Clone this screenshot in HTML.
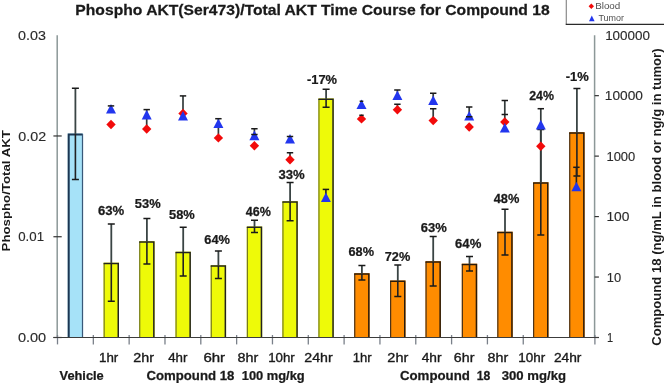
<!DOCTYPE html><html><head><meta charset="utf-8"><style>html,body{margin:0;padding:0;background:#fff;overflow:hidden}svg{display:block;will-change:transform;filter:blur(0.35px)}text{font-family:"Liberation Sans",sans-serif}</style></head><body>
<svg width="664" height="383" viewBox="0 0 664 383">
<rect width="664" height="383" fill="#fff"/>
<path d="M566.3 0V24.3" fill="none" stroke="#8a8a8a" stroke-width="1.2"/>
<path d="M565.7 24.3H664" fill="none" stroke="#2a2a2a" stroke-width="1.2"/>
<path d="M591.3 3.6L594 6.3L591.3 9L588.6 6.3Z" fill="#f20a0a"/>
<path d="M591.8 15.6L594.6 21.2L589 21.2Z" fill="#2236ee"/>
<line x1="57.2" y1="35.2" x2="57.2" y2="337.5" stroke="#8c9898" stroke-width="1.5"/>
<line x1="53.4" y1="337.50" x2="61.7" y2="337.50" stroke="#333" stroke-width="1.2"/>
<line x1="53.4" y1="236.73" x2="61.7" y2="236.73" stroke="#333" stroke-width="1.2"/>
<line x1="53.4" y1="135.97" x2="61.7" y2="135.97" stroke="#333" stroke-width="1.2"/>
<line x1="594.6" y1="35.2" x2="594.6" y2="337.5" stroke="#8c9898" stroke-width="1.5"/>
<line x1="594.6" y1="337.50" x2="598.9" y2="337.50" stroke="#333" stroke-width="1.2"/>
<line x1="594.6" y1="277.04" x2="598.9" y2="277.04" stroke="#333" stroke-width="1.2"/>
<line x1="594.6" y1="216.58" x2="598.9" y2="216.58" stroke="#333" stroke-width="1.2"/>
<line x1="594.6" y1="156.12" x2="598.9" y2="156.12" stroke="#333" stroke-width="1.2"/>
<line x1="594.6" y1="95.66" x2="598.9" y2="95.66" stroke="#333" stroke-width="1.2"/>
<line x1="57.50" y1="335" x2="57.50" y2="344.4" stroke="#7a808a" stroke-width="1.3"/>
<line x1="93.33" y1="335" x2="93.33" y2="344.4" stroke="#7a808a" stroke-width="1.3"/>
<line x1="129.15" y1="335" x2="129.15" y2="344.4" stroke="#7a808a" stroke-width="1.3"/>
<line x1="164.98" y1="335" x2="164.98" y2="344.4" stroke="#7a808a" stroke-width="1.3"/>
<line x1="200.81" y1="335" x2="200.81" y2="344.4" stroke="#7a808a" stroke-width="1.3"/>
<line x1="236.63" y1="335" x2="236.63" y2="344.4" stroke="#7a808a" stroke-width="1.3"/>
<line x1="272.46" y1="335" x2="272.46" y2="344.4" stroke="#7a808a" stroke-width="1.3"/>
<line x1="308.29" y1="335" x2="308.29" y2="344.4" stroke="#7a808a" stroke-width="1.3"/>
<line x1="344.11" y1="335" x2="344.11" y2="344.4" stroke="#7a808a" stroke-width="1.3"/>
<line x1="379.94" y1="335" x2="379.94" y2="344.4" stroke="#7a808a" stroke-width="1.3"/>
<line x1="415.77" y1="335" x2="415.77" y2="344.4" stroke="#7a808a" stroke-width="1.3"/>
<line x1="451.59" y1="335" x2="451.59" y2="344.4" stroke="#7a808a" stroke-width="1.3"/>
<line x1="487.42" y1="335" x2="487.42" y2="344.4" stroke="#7a808a" stroke-width="1.3"/>
<line x1="523.25" y1="335" x2="523.25" y2="344.4" stroke="#7a808a" stroke-width="1.3"/>
<line x1="594.90" y1="335" x2="594.90" y2="344.4" stroke="#7a808a" stroke-width="1.3"/>
<rect x="67.70" y="133.50" width="15.40" height="204.00" fill="#a6e2f8"/>
<path d="M68.70 337.50V134.50H82.50" fill="none" stroke="#1c3652" stroke-width="2.0"/>
<path d="M82.50 133.90V337.50" fill="none" stroke="#3a5878" stroke-width="1.2"/>
<rect x="103.60" y="262.70" width="15.40" height="74.80" fill="#eefa08"/>
<path d="M104.15 337.50V263.30" fill="none" stroke="#6a6e20" stroke-width="1.1"/>
<path d="M103.60 263.45H118.25V337.50" fill="none" stroke="#222" stroke-width="1.5"/>
<rect x="139.20" y="241.20" width="15.40" height="96.30" fill="#eefa08"/>
<path d="M139.75 337.50V241.80" fill="none" stroke="#6a6e20" stroke-width="1.1"/>
<path d="M139.20 241.95H153.85V337.50" fill="none" stroke="#222" stroke-width="1.5"/>
<rect x="175.50" y="251.70" width="15.40" height="85.80" fill="#eefa08"/>
<path d="M176.05 337.50V252.30" fill="none" stroke="#6a6e20" stroke-width="1.1"/>
<path d="M175.50 252.45H190.15V337.50" fill="none" stroke="#222" stroke-width="1.5"/>
<rect x="210.70" y="265.20" width="15.40" height="72.30" fill="#eefa08"/>
<path d="M211.25 337.50V265.80" fill="none" stroke="#6a6e20" stroke-width="1.1"/>
<path d="M210.70 265.95H225.35V337.50" fill="none" stroke="#222" stroke-width="1.5"/>
<rect x="246.80" y="226.50" width="15.40" height="111.00" fill="#eefa08"/>
<path d="M247.35 337.50V227.10" fill="none" stroke="#6a6e20" stroke-width="1.1"/>
<path d="M246.80 227.25H261.45V337.50" fill="none" stroke="#222" stroke-width="1.5"/>
<rect x="282.40" y="201.20" width="15.40" height="136.30" fill="#eefa08"/>
<path d="M282.95 337.50V201.80" fill="none" stroke="#6a6e20" stroke-width="1.1"/>
<path d="M282.40 201.95H297.05V337.50" fill="none" stroke="#222" stroke-width="1.5"/>
<rect x="318.40" y="98.40" width="15.40" height="239.10" fill="#eefa08"/>
<path d="M318.95 337.50V99.00" fill="none" stroke="#6a6e20" stroke-width="1.1"/>
<path d="M318.40 99.15H333.05V337.50" fill="none" stroke="#222" stroke-width="1.5"/>
<rect x="354.20" y="273.20" width="15.40" height="64.30" fill="#ff8c00"/>
<path d="M354.75 337.50V273.80" fill="none" stroke="#3a2a1a" stroke-width="1.1"/>
<path d="M354.20 273.95H368.85V337.50" fill="none" stroke="#2a1a0a" stroke-width="1.5"/>
<rect x="390.10" y="280.50" width="15.40" height="57.00" fill="#ff8c00"/>
<path d="M390.65 337.50V281.10" fill="none" stroke="#3a2a1a" stroke-width="1.1"/>
<path d="M390.10 281.25H404.75V337.50" fill="none" stroke="#2a1a0a" stroke-width="1.5"/>
<rect x="425.50" y="261.20" width="15.40" height="76.30" fill="#ff8c00"/>
<path d="M426.05 337.50V261.80" fill="none" stroke="#3a2a1a" stroke-width="1.1"/>
<path d="M425.50 261.95H440.15V337.50" fill="none" stroke="#2a1a0a" stroke-width="1.5"/>
<rect x="461.80" y="263.70" width="15.40" height="73.80" fill="#ff8c00"/>
<path d="M462.35 337.50V264.30" fill="none" stroke="#3a2a1a" stroke-width="1.1"/>
<path d="M461.80 264.45H476.45V337.50" fill="none" stroke="#2a1a0a" stroke-width="1.5"/>
<rect x="497.30" y="231.70" width="15.40" height="105.80" fill="#ff8c00"/>
<path d="M497.85 337.50V232.30" fill="none" stroke="#3a2a1a" stroke-width="1.1"/>
<path d="M497.30 232.45H511.95V337.50" fill="none" stroke="#2a1a0a" stroke-width="1.5"/>
<rect x="533.10" y="182.30" width="15.40" height="155.20" fill="#ff8c00"/>
<path d="M533.65 337.50V182.90" fill="none" stroke="#3a2a1a" stroke-width="1.1"/>
<path d="M533.10 183.05H547.75V337.50" fill="none" stroke="#2a1a0a" stroke-width="1.5"/>
<rect x="569.20" y="132.20" width="15.40" height="205.30" fill="#ff8c00"/>
<path d="M569.75 337.50V132.80" fill="none" stroke="#3a2a1a" stroke-width="1.1"/>
<path d="M569.20 132.95H583.85V337.50" fill="none" stroke="#2a1a0a" stroke-width="1.5"/>
<line x1="53.4" y1="337.5" x2="599" y2="337.5" stroke="#3c3c3c" stroke-width="1.1"/>
<path d="M75.40 88.30V134.00" stroke="#3a4444" stroke-width="1.8" fill="none"/>
<path d="M75.40 134.00V179.40" stroke="#222" stroke-width="1.6" fill="none"/>
<path d="M71.90 88.30H78.90M71.90 179.40H78.90" stroke="#1a1a1a" stroke-width="1.5" fill="none"/>
<path d="M111.30 223.90V263.20" stroke="#3a4444" stroke-width="1.8" fill="none"/>
<path d="M111.30 263.20V301.30" stroke="#222" stroke-width="1.6" fill="none"/>
<path d="M107.80 223.90H114.80M107.80 301.30H114.80" stroke="#1a1a1a" stroke-width="1.5" fill="none"/>
<path d="M146.90 218.40V241.70" stroke="#3a4444" stroke-width="1.8" fill="none"/>
<path d="M146.90 241.70V263.90" stroke="#222" stroke-width="1.6" fill="none"/>
<path d="M143.40 218.40H150.40M143.40 263.90H150.40" stroke="#1a1a1a" stroke-width="1.5" fill="none"/>
<path d="M183.20 227.30V252.20" stroke="#3a4444" stroke-width="1.8" fill="none"/>
<path d="M183.20 252.20V275.90" stroke="#222" stroke-width="1.6" fill="none"/>
<path d="M179.70 227.30H186.70M179.70 275.90H186.70" stroke="#1a1a1a" stroke-width="1.5" fill="none"/>
<path d="M218.40 250.90V265.70" stroke="#3a4444" stroke-width="1.8" fill="none"/>
<path d="M218.40 265.70V278.50" stroke="#222" stroke-width="1.6" fill="none"/>
<path d="M214.90 250.90H221.90M214.90 278.50H221.90" stroke="#1a1a1a" stroke-width="1.5" fill="none"/>
<path d="M254.50 220.20V227.00" stroke="#3a4444" stroke-width="1.8" fill="none"/>
<path d="M254.50 227.00V232.50" stroke="#222" stroke-width="1.6" fill="none"/>
<path d="M251.00 220.20H258.00M251.00 232.50H258.00" stroke="#1a1a1a" stroke-width="1.5" fill="none"/>
<path d="M290.10 182.40V201.70" stroke="#3a4444" stroke-width="1.8" fill="none"/>
<path d="M290.10 201.70V220.70" stroke="#222" stroke-width="1.6" fill="none"/>
<path d="M286.60 182.40H293.60M286.60 220.70H293.60" stroke="#1a1a1a" stroke-width="1.5" fill="none"/>
<path d="M326.10 89.20V98.90" stroke="#3a4444" stroke-width="1.8" fill="none"/>
<path d="M326.10 98.90V107.20" stroke="#222" stroke-width="1.6" fill="none"/>
<path d="M322.60 89.20H329.60M322.60 107.20H329.60" stroke="#1a1a1a" stroke-width="1.5" fill="none"/>
<path d="M361.90 265.60V273.70" stroke="#3a4444" stroke-width="1.8" fill="none"/>
<path d="M361.90 273.70V280.00" stroke="#222" stroke-width="1.6" fill="none"/>
<path d="M358.40 265.60H365.40M358.40 280.00H365.40" stroke="#1a1a1a" stroke-width="1.5" fill="none"/>
<path d="M397.80 265.00V281.00" stroke="#3a4444" stroke-width="1.8" fill="none"/>
<path d="M397.80 281.00V296.40" stroke="#222" stroke-width="1.6" fill="none"/>
<path d="M394.30 265.00H401.30M394.30 296.40H401.30" stroke="#1a1a1a" stroke-width="1.5" fill="none"/>
<path d="M433.20 236.50V261.70" stroke="#3a4444" stroke-width="1.8" fill="none"/>
<path d="M433.20 261.70V285.90" stroke="#222" stroke-width="1.6" fill="none"/>
<path d="M429.70 236.50H436.70M429.70 285.90H436.70" stroke="#1a1a1a" stroke-width="1.5" fill="none"/>
<path d="M469.50 256.60V264.20" stroke="#3a4444" stroke-width="1.8" fill="none"/>
<path d="M469.50 264.20V271.10" stroke="#222" stroke-width="1.6" fill="none"/>
<path d="M466.00 256.60H473.00M466.00 271.10H473.00" stroke="#1a1a1a" stroke-width="1.5" fill="none"/>
<path d="M505.00 209.20V232.20" stroke="#3a4444" stroke-width="1.8" fill="none"/>
<path d="M505.00 232.20V255.00" stroke="#222" stroke-width="1.6" fill="none"/>
<path d="M501.50 209.20H508.50M501.50 255.00H508.50" stroke="#1a1a1a" stroke-width="1.5" fill="none"/>
<path d="M540.80 129.60V182.80" stroke="#3a4444" stroke-width="1.8" fill="none"/>
<path d="M540.80 182.80V235.10" stroke="#222" stroke-width="1.6" fill="none"/>
<path d="M537.30 129.60H544.30M537.30 235.10H544.30" stroke="#1a1a1a" stroke-width="1.5" fill="none"/>
<path d="M576.90 88.40V132.70" stroke="#3a4444" stroke-width="1.8" fill="none"/>
<path d="M576.90 132.70V175.90" stroke="#222" stroke-width="1.6" fill="none"/>
<path d="M573.40 88.40H580.40M573.40 175.90H580.40" stroke="#1a1a1a" stroke-width="1.5" fill="none"/>
<path d="M111.00 105.90V109.00" stroke="#333b3b" stroke-width="1.7" fill="none"/>
<path d="M111.00 119.80L115.70 124.50L111.00 129.20L106.30 124.50Z" fill="#f20a0a"/>
<path d="M111.00 103.90L116.00 113.50L106.00 113.50Z" fill="#2236ee"/>
<path d="M107.80 105.90H114.20" stroke="#1a1a1a" stroke-width="1.5" fill="none"/>
<path d="M146.70 109.60V126.00" stroke="#333b3b" stroke-width="1.7" fill="none"/>
<path d="M146.70 124.30L151.40 129.00L146.70 133.70L142.00 129.00Z" fill="#f20a0a"/>
<path d="M146.70 109.80L151.70 119.40L141.70 119.40Z" fill="#2236ee"/>
<path d="M143.50 109.60H149.90" stroke="#1a1a1a" stroke-width="1.5" fill="none"/>
<path d="M183.00 95.90V114.00" stroke="#333b3b" stroke-width="1.7" fill="none"/>
<path d="M183.00 108.70L187.70 113.40L183.00 118.10L178.30 113.40Z" fill="#f20a0a"/>
<path d="M183.00 111.00L188.00 120.60L178.00 120.60Z" fill="#2236ee"/>
<path d="M179.80 95.90H186.20" stroke="#1a1a1a" stroke-width="1.5" fill="none"/>
<path d="M218.40 118.70V134.00" stroke="#333b3b" stroke-width="1.7" fill="none"/>
<path d="M218.40 133.20L223.10 137.90L218.40 142.60L213.70 137.90Z" fill="#f20a0a"/>
<path d="M218.40 118.40L223.40 128.00L213.40 128.00Z" fill="#2236ee"/>
<path d="M215.20 118.70H221.60" stroke="#1a1a1a" stroke-width="1.5" fill="none"/>
<path d="M254.40 128.70V136.00" stroke="#333b3b" stroke-width="1.7" fill="none"/>
<path d="M254.40 141.00L259.10 145.70L254.40 150.40L249.70 145.70Z" fill="#f20a0a"/>
<path d="M254.40 130.60L259.40 140.20L249.40 140.20Z" fill="#2236ee"/>
<path d="M251.20 128.70H257.60M251.20 134.40H257.60" stroke="#1a1a1a" stroke-width="1.5" fill="none"/>
<path d="M290.00 136.60V140.00M290.00 152.70V158.00" stroke="#333b3b" stroke-width="1.7" fill="none"/>
<path d="M290.00 155.00L294.70 159.70L290.00 164.40L285.30 159.70Z" fill="#f20a0a"/>
<path d="M290.00 133.90L295.00 143.50L285.00 143.50Z" fill="#2236ee"/>
<path d="M286.80 136.60H293.20M286.80 152.70H293.20" stroke="#1a1a1a" stroke-width="1.5" fill="none"/>
<path d="M325.90 189.40V197.00" stroke="#222" stroke-width="1.6" fill="none"/>
<path d="M325.90 192.50L330.90 202.10L320.90 202.10Z" fill="#2236ee"/>
<path d="M322.70 189.40H329.10" stroke="#1a1a1a" stroke-width="1.5" fill="none"/>
<path d="M361.50 101.30V104.00M361.50 115.30V118.00" stroke="#333b3b" stroke-width="1.7" fill="none"/>
<path d="M361.50 114.20L366.20 118.90L361.50 123.60L356.80 118.90Z" fill="#f20a0a"/>
<path d="M361.50 99.50L366.50 109.10L356.50 109.10Z" fill="#2236ee"/>
<path d="M359.70 101.30H363.30M359.30 115.30H363.70" stroke="#1a1a1a" stroke-width="1.5" fill="none"/>
<path d="M397.40 89.90V95.00M397.40 104.20V108.00" stroke="#333b3b" stroke-width="1.7" fill="none"/>
<path d="M397.40 105.00L402.10 109.70L397.40 114.40L392.70 109.70Z" fill="#f20a0a"/>
<path d="M397.40 90.40L402.40 100.00L392.40 100.00Z" fill="#2236ee"/>
<path d="M394.20 89.90H400.60M394.20 104.20H400.60" stroke="#1a1a1a" stroke-width="1.5" fill="none"/>
<path d="M433.20 93.20V100.00M433.20 108.70V118.00" stroke="#333b3b" stroke-width="1.7" fill="none"/>
<path d="M433.20 115.90L437.90 120.60L433.20 125.30L428.50 120.60Z" fill="#f20a0a"/>
<path d="M433.20 95.40L438.20 105.00L428.20 105.00Z" fill="#2236ee"/>
<path d="M430.00 93.20H436.40M430.00 108.70H436.40" stroke="#1a1a1a" stroke-width="1.5" fill="none"/>
<path d="M469.20 107.00V116.00" stroke="#333b3b" stroke-width="1.7" fill="none"/>
<path d="M469.20 122.30L473.90 127.00L469.20 131.70L464.50 127.00Z" fill="#f20a0a"/>
<path d="M469.20 111.00L474.20 120.60L464.20 120.60Z" fill="#2236ee"/>
<path d="M466.00 107.00H472.40M466.00 116.80H472.40" stroke="#1a1a1a" stroke-width="1.5" fill="none"/>
<path d="M504.80 100.50V128.00" stroke="#333b3b" stroke-width="1.7" fill="none"/>
<path d="M504.80 117.30L509.50 122.00L504.80 126.70L500.10 122.00Z" fill="#f20a0a"/>
<path d="M504.80 122.90L509.80 132.50L499.80 132.50Z" fill="#2236ee"/>
<path d="M501.60 100.50H508.00M501.60 114.50H508.00" stroke="#1a1a1a" stroke-width="1.5" fill="none"/>
<path d="M540.80 108.70V182.00" stroke="#333b3b" stroke-width="1.7" fill="none"/>
<path d="M540.80 141.50L545.50 146.20L540.80 150.90L536.10 146.20Z" fill="#f20a0a"/>
<path d="M540.80 119.80L545.80 129.40L535.80 129.40Z" fill="#2236ee"/>
<path d="M537.60 108.70H544.00" stroke="#1a1a1a" stroke-width="1.5" fill="none"/>
<path d="M576.40 167.30V186.00" stroke="#222" stroke-width="1.6" fill="none"/>
<path d="M576.40 181.70L581.40 191.30L571.40 191.30Z" fill="#2236ee"/>
<path d="M573.20 167.30H579.60" stroke="#1a1a1a" stroke-width="1.5" fill="none"/>
<text transform="translate(75.35 15.20) scale(1.0455 1)" font-weight="bold" font-size="15.00" fill="#1a1a1a" stroke="#1a1a1a" stroke-width="0.25">Phospho AKT(Ser473)/Total AKT Time Course for Compound 18</text>
<text transform="translate(18.06 39.60) scale(1.1391 1)" font-weight="normal" font-size="12.60" fill="#2a2a2a" stroke="#2a2a2a" stroke-width="0.12">0.03</text>
<text transform="translate(18.37 140.90) scale(1.1348 1)" font-weight="normal" font-size="12.60" fill="#2a2a2a" stroke="#2a2a2a" stroke-width="0.12">0.02</text>
<text transform="translate(18.25 241.20) scale(1.0522 1)" font-weight="normal" font-size="12.60" fill="#2a2a2a" stroke="#2a2a2a" stroke-width="0.12">0.01</text>
<text transform="translate(17.95 341.80) scale(1.1522 1)" font-weight="normal" font-size="12.60" fill="#2a2a2a" stroke="#2a2a2a" stroke-width="0.12">0.00</text>
<text transform="translate(605.13 39.60) scale(1.0659 1)" font-weight="normal" font-size="12.60" fill="#2a2a2a" stroke="#2a2a2a" stroke-width="0.12">100000</text>
<text transform="translate(604.81 99.90) scale(1.0882 1)" font-weight="normal" font-size="12.60" fill="#2a2a2a" stroke="#2a2a2a" stroke-width="0.12">10000</text>
<text transform="translate(606.47 161.00) scale(1.0296 1)" font-weight="normal" font-size="12.60" fill="#2a2a2a" stroke="#2a2a2a" stroke-width="0.12">1000</text>
<text transform="translate(606.40 221.30) scale(1.0950 1)" font-weight="normal" font-size="12.60" fill="#2a2a2a" stroke="#2a2a2a" stroke-width="0.12">100</text>
<text transform="translate(606.78 281.70) scale(1.0231 1)" font-weight="normal" font-size="12.60" fill="#2a2a2a" stroke="#2a2a2a" stroke-width="0.12">10</text>
<text transform="translate(606.92 342.30) scale(0.8800 1)" font-weight="normal" font-size="12.60" fill="#2a2a2a" stroke="#2a2a2a" stroke-width="0.12">1</text>
<text transform="translate(97.99 215.30) scale(1.0120 1)" font-weight="bold" font-size="13.00" fill="#1a1a1a" stroke="#1a1a1a" stroke-width="0.25">63%</text>
<text transform="translate(134.81 207.80) scale(0.9920 1)" font-weight="bold" font-size="13.00" fill="#1a1a1a" stroke="#1a1a1a" stroke-width="0.25">53%</text>
<text transform="translate(169.01 218.60) scale(0.9920 1)" font-weight="bold" font-size="13.00" fill="#1a1a1a" stroke="#1a1a1a" stroke-width="0.25">58%</text>
<text transform="translate(204.31 243.60) scale(0.9880 1)" font-weight="bold" font-size="13.00" fill="#1a1a1a" stroke="#1a1a1a" stroke-width="0.25">64%</text>
<text transform="translate(245.70 215.60) scale(0.9654 1)" font-weight="bold" font-size="13.00" fill="#1a1a1a" stroke="#1a1a1a" stroke-width="0.25">46%</text>
<text transform="translate(278.49 178.80) scale(1.0120 1)" font-weight="bold" font-size="13.00" fill="#1a1a1a" stroke="#1a1a1a" stroke-width="0.25">33%</text>
<text transform="translate(307.01 84.20) scale(0.9897 1)" font-weight="bold" font-size="13.00" fill="#1a1a1a" stroke="#1a1a1a" stroke-width="0.25">-17%</text>
<text transform="translate(348.52 255.60) scale(0.9800 1)" font-weight="bold" font-size="13.00" fill="#1a1a1a" stroke="#1a1a1a" stroke-width="0.25">68%</text>
<text transform="translate(384.72 260.80) scale(0.9800 1)" font-weight="bold" font-size="13.00" fill="#1a1a1a" stroke="#1a1a1a" stroke-width="0.25">72%</text>
<text transform="translate(420.70 232.40) scale(1.0000 1)" font-weight="bold" font-size="13.00" fill="#1a1a1a" stroke="#1a1a1a" stroke-width="0.25">63%</text>
<text transform="translate(455.09 248.40) scale(1.0080 1)" font-weight="bold" font-size="13.00" fill="#1a1a1a" stroke="#1a1a1a" stroke-width="0.25">64%</text>
<text transform="translate(493.70 203.40) scale(0.9846 1)" font-weight="bold" font-size="13.00" fill="#1a1a1a" stroke="#1a1a1a" stroke-width="0.25">48%</text>
<text transform="translate(529.20 100.20) scale(0.9538 1)" font-weight="bold" font-size="13.00" fill="#1a1a1a" stroke="#1a1a1a" stroke-width="0.25">24%</text>
<text transform="translate(565.70 80.50) scale(0.9955 1)" font-weight="bold" font-size="13.00" fill="#1a1a1a" stroke="#1a1a1a" stroke-width="0.25">-1%</text>
<text transform="translate(99.04 362.30) scale(1.0588 1)" font-weight="normal" font-size="12.60" fill="#1a1a1a" stroke="#1a1a1a" stroke-width="0.35">1hr</text>
<text transform="translate(133.26 362.30) scale(1.1353 1)" font-weight="normal" font-size="12.60" fill="#1a1a1a" stroke="#1a1a1a" stroke-width="0.35">2hr</text>
<text transform="translate(168.20 362.30) scale(1.0556 1)" font-weight="normal" font-size="12.60" fill="#1a1a1a" stroke="#1a1a1a" stroke-width="0.35">4hr</text>
<text transform="translate(203.41 362.30) scale(1.1941 1)" font-weight="normal" font-size="12.60" fill="#1a1a1a" stroke="#1a1a1a" stroke-width="0.35">6hr</text>
<text transform="translate(237.46 362.30) scale(1.1412 1)" font-weight="normal" font-size="12.60" fill="#1a1a1a" stroke="#1a1a1a" stroke-width="0.35">8hr</text>
<text transform="translate(268.15 362.30) scale(1.0542 1)" font-weight="normal" font-size="12.60" fill="#1a1a1a" stroke="#1a1a1a" stroke-width="0.35">10hr</text>
<text transform="translate(304.27 362.30) scale(1.1250 1)" font-weight="normal" font-size="12.60" fill="#1a1a1a" stroke="#1a1a1a" stroke-width="0.35">24hr</text>
<text transform="translate(352.76 362.30) scale(1.0353 1)" font-weight="normal" font-size="12.60" fill="#1a1a1a" stroke="#1a1a1a" stroke-width="0.35">1hr</text>
<text transform="translate(387.35 362.30) scale(1.1471 1)" font-weight="normal" font-size="12.60" fill="#1a1a1a" stroke="#1a1a1a" stroke-width="0.35">2hr</text>
<text transform="translate(421.70 362.30) scale(1.0889 1)" font-weight="normal" font-size="12.60" fill="#1a1a1a" stroke="#1a1a1a" stroke-width="0.35">4hr</text>
<text transform="translate(453.87 362.30) scale(1.1294 1)" font-weight="normal" font-size="12.60" fill="#1a1a1a" stroke="#1a1a1a" stroke-width="0.35">6hr</text>
<text transform="translate(487.56 362.30) scale(1.1353 1)" font-weight="normal" font-size="12.60" fill="#1a1a1a" stroke="#1a1a1a" stroke-width="0.35">8hr</text>
<text transform="translate(518.33 362.30) scale(1.0708 1)" font-weight="normal" font-size="12.60" fill="#1a1a1a" stroke="#1a1a1a" stroke-width="0.35">10hr</text>
<text transform="translate(553.91 362.30) scale(1.0917 1)" font-weight="normal" font-size="12.60" fill="#1a1a1a" stroke="#1a1a1a" stroke-width="0.35">24hr</text>
<text transform="translate(59.60 379.60) scale(1.0333 1)" font-weight="bold" font-size="12.40" fill="#1a1a1a" stroke="#1a1a1a" stroke-width="0.25">Vehicle</text>
<text transform="translate(146.44 379.60) scale(1.0642 1)" font-weight="bold" font-size="12.40" fill="#1a1a1a" stroke="#1a1a1a" stroke-width="0.25">Compound 18</text>
<text transform="translate(241.76 379.60) scale(1.0390 1)" font-weight="bold" font-size="12.40" fill="#1a1a1a" stroke="#1a1a1a" stroke-width="0.25">100 mg/kg</text>
<text transform="translate(399.93 379.60) scale(1.0703 1)" font-weight="bold" font-size="12.40" fill="#1a1a1a" stroke="#1a1a1a" stroke-width="0.25">Compound</text>
<text transform="translate(476.82 379.60) scale(0.9846 1)" font-weight="bold" font-size="12.40" fill="#1a1a1a" stroke="#1a1a1a" stroke-width="0.25">18</text>
<text transform="translate(501.74 379.60) scale(1.0593 1)" font-weight="bold" font-size="12.40" fill="#1a1a1a" stroke="#1a1a1a" stroke-width="0.25">300 mg/kg</text>
<text transform="translate(595.15 9.40) scale(1.1450 1)" font-weight="normal" font-size="8.60" fill="#505050">Blood</text>
<text transform="translate(598.40 21.10) scale(1.0417 1)" font-weight="normal" font-size="8.60" fill="#505050">Tumor</text>
<text transform="translate(10.40 250.40) rotate(-90) scale(1.0186 0.9000) translate(-1.00 0)" font-weight="bold" font-size="13.00" fill="#1a1a1a">Phospho/Total AKT</text>
<text transform="translate(660.70 344.80) rotate(-90) scale(1.0082 1.0000) translate(-1.00 0)" font-weight="bold" font-size="13.00" fill="#1a1a1a">Compound 18 (ng/mL in blood or ng/g in tumor)</text>
</svg></body></html>
